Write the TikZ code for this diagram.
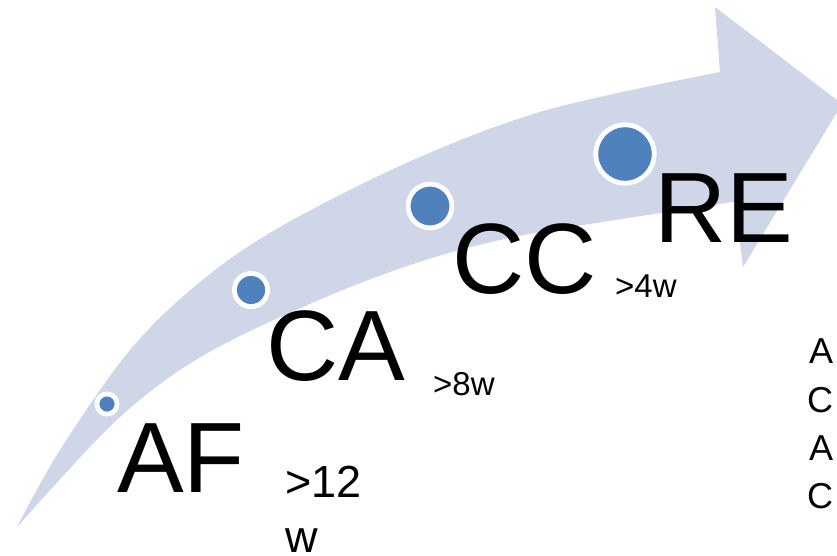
\documentclass[tikz,border=0pt]{standalone}
\usepackage{fontspec}
\setmainfont{Liberation Sans}
\definecolor{arrowfill}{RGB}{207,214,231}
\definecolor{dotblue}{RGB}{79,129,189}
\tikzset{
  dot/.style={circle, inner sep=0pt, outer sep=0pt, fill=dotblue, draw=white, line width=4.8pt},
  bigtext/.style={anchor=base west, inner sep=0pt, font=\fontsize{100}{120}\selectfont},
  smalltext/.style={anchor=base west, inner sep=0pt, font=\fontsize{33}{40}\selectfont},
  midtext/.style={anchor=base west, inner sep=0pt, font=\fontsize{45}{55}\selectfont},
  sidetext/.style={anchor=base west, inner sep=0pt, font=\fontsize{36}{42}\selectfont}
}
\begin{document}
\begin{tikzpicture}[x=1pt,y=-1pt]
\useasboundingbox (0,0) rectangle (837,556);
\clip (0,0) rectangle (837,556);
\fill[white] (0,0) rectangle (837,556);
% curved arrow
\fill[arrowfill] plot[smooth, tension=0.55] coordinates {(17,527) (60,450) (130,350) (200,282) (280,227) (413,160) (547,110) (720,72)}
  -- (715,7) -- (842,104) -- (743,267) -- (735,202)
  -- plot[smooth, tension=0.55] coordinates {(735,202) (700,207) (500,240) (363,282) (213,350) (120,417) (17,527)} -- cycle;
% dots
\node[dot, minimum size=20.2pt] (d1) at (107,404) {};
\node[dot, minimum size=33.2pt] (d2) at (251,290) {};
\node[dot, minimum size=43.8pt] (d3) at (430,206) {};
\node[dot, minimum size=58.4pt] (d4) at (625,154) {};
% labels
\node[bigtext] (af) at (117,492) {AF};
\node[bigtext] (ca) at (266,380) {CA};
\node[bigtext] (cc) at (452,293) {CC};
\node[bigtext] (re) at (654,242) {RE};
\node[midtext] (w12a) at (285,497) {>12};
\node[midtext] (w12b) at (285,552) {w};
\node[smalltext] (w8) at (433,395) {>8w};
\node[smalltext] (w4) at (615,297) {>4w};
\node[sidetext] (s1) at (809,363) {A};
\node[sidetext] (s2) at (807,412) {C};
\node[sidetext] (s3) at (809,460) {A};
\node[sidetext] (s4) at (807,508) {C};
\end{tikzpicture}
\end{document}
